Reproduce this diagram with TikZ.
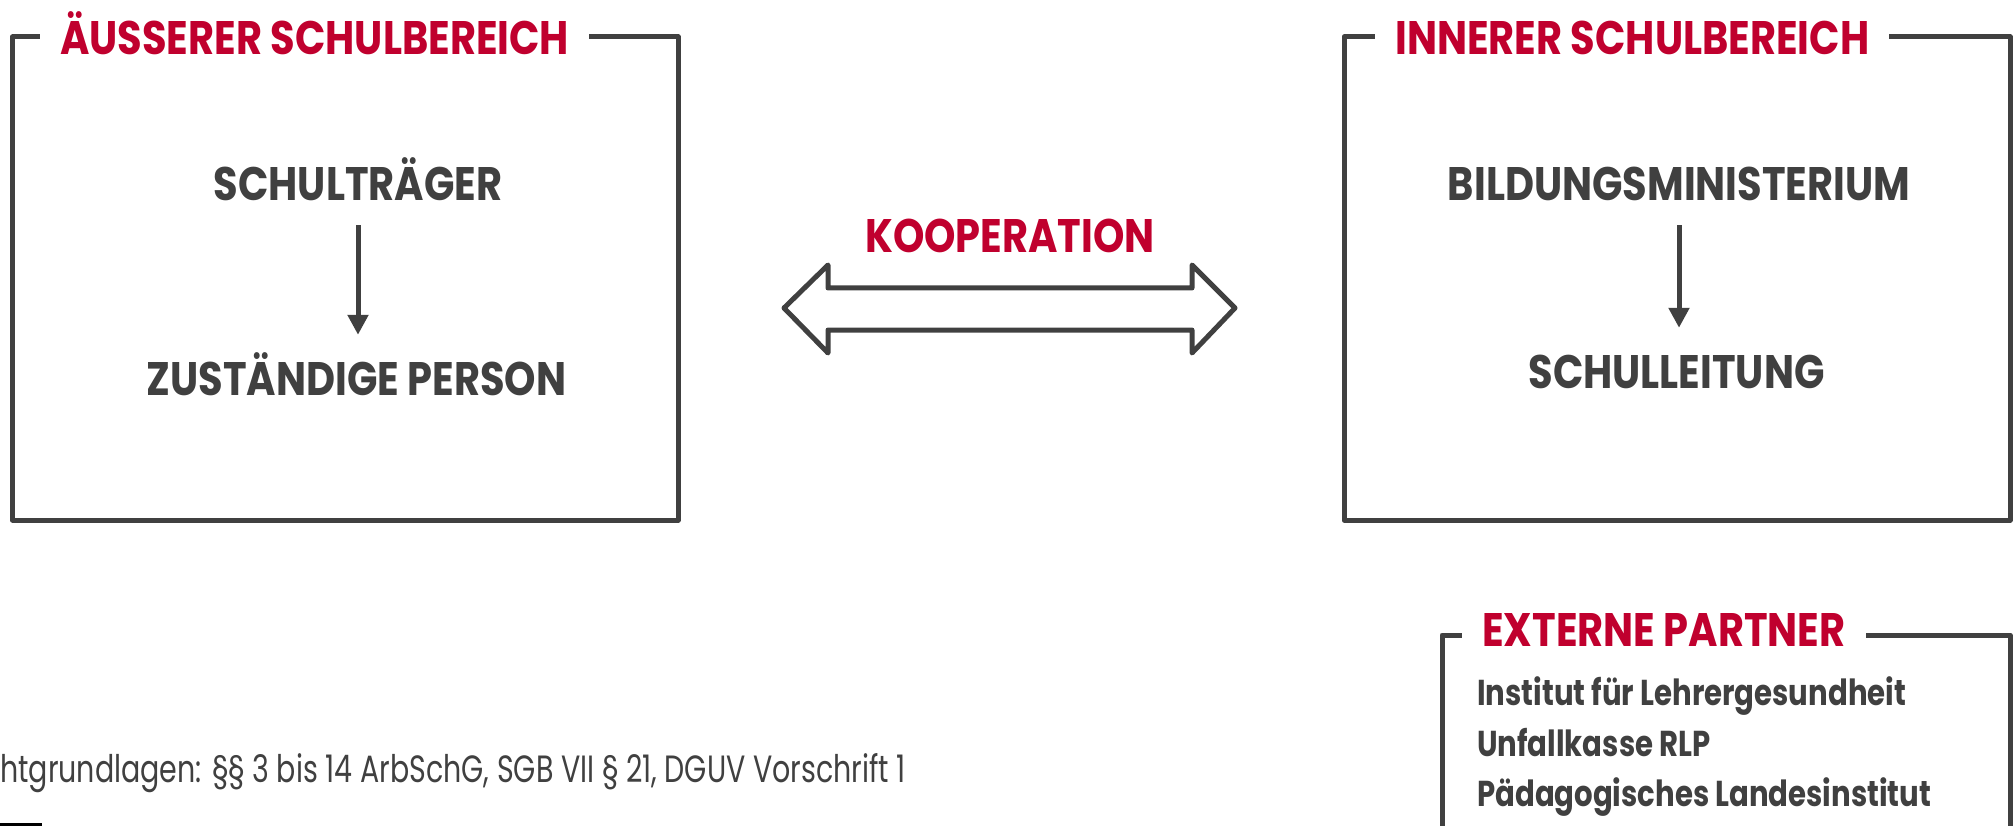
\documentclass[tikz,border=0pt]{standalone}
\usepackage{fontspec}
\usetikzlibrary{arrows.meta}

\newfontfamily\headfont{Poppins}[FakeStretch=0.85]
\newfontfamily\partnerfont{Poppins}[FakeStretch=0.81]
\newfontfamily\notefont{Poppins}[FakeStretch=0.75]
\definecolor{schulrot}{HTML}{C0002E}
\definecolor{schulgrau}{HTML}{404040}

\begin{document}
\begin{tikzpicture}[x=1pt, y=-1pt,
    rahmen/.style={draw=schulgrau, line width=5pt, line join=round},
    titel/.style={anchor=base west, fill=white, inner xsep=20pt, inner ysep=0pt,
        text height=33pt, text depth=0pt, text=schulrot,
        font=\headfont\bfseries\fontsize{47}{50}\selectfont},
    eintrag/.style={anchor=base, inner sep=0pt, text height=33pt, text depth=0pt,
        text=schulgrau, font=\headfont\bfseries\fontsize{47}{50}\selectfont},
    partner/.style={anchor=base west, inner sep=0pt, text=schulgrau,
        font=\partnerfont\bfseries\fontsize{36}{40}\selectfont},
    hinweis/.style={anchor=base west, inner sep=0pt, text=schulgrau,
        font=\notefont\fontsize{38}{42}\selectfont},
    pfeil/.style={draw=schulgrau, line width=5pt, -{Triangle[width=20pt,length=20pt]}}]

    % Page size
    \useasboundingbox (0,0) rectangle (2013,826);
    \clip (0,0) rectangle (2013,826);

    % Outer school area
    \draw[rahmen] (12.5,37) rectangle (678,520);
    \node[titel] (aussen) at (40,55) {ÄUSSERER SCHULBEREICH};
    \node[eintrag] (traeger) at (358,201) {SCHULTRÄGER};
    \node[eintrag] (person) at (356.5,395) {ZUSTÄNDIGE PERSON};
    \draw[pfeil, shorten <=24pt, shorten >=27pt] (traeger.south) -- (traeger.south |- person.north);

    % Inner school area
    \draw[rahmen] (1344,37) rectangle (2010,520);
    \node[titel] (innen) at (1375,55) {INNERER SCHULBEREICH};
    \node[eintrag] (ministerium) at (1679,201) {BILDUNGSMINISTERIUM};
    \node[eintrag] (leitung) at (1676.5,388) {SCHULLEITUNG};
    \draw[pfeil, shorten <=24pt, shorten >=27pt] (ministerium.south) -- (ministerium.south |- leitung.north);

    % Cooperation
    \node[eintrag, text=schulrot] (koop) at (1010,253) {KOOPERATION};
    \draw[rahmen] (784,308) -- (828,265) -- (828,288) -- (1192,288) -- (1192,265) -- (1235,308)
        -- (1192,353) -- (1192,330) -- (828,330) -- (828,353) -- cycle;

    % External partners
    \draw[rahmen] (1442,900) -- (1442,635) -- (2010,635) -- (2010,900);
    \node[titel] (extern) at (1462,646) {EXTERNE PARTNER};
    \foreach \name [count=\i] in {Institut für Lehrergesundheit, Unfallkasse RLP, Pädagogisches Landesinstitut}
        \node[partner] (partner\i) at (1477, 655+50.5*\i) {\name};

    % Legal basis
    \node[hinweis] (grundlagen) at (0,782) {htgrundlagen: §§ 3 bis 14 ArbSchG, SGB VII § 21, DGUV Vorschrift 1};
    \fill[black] (0,823) rectangle (42,826);

\end{tikzpicture}
\end{document}
